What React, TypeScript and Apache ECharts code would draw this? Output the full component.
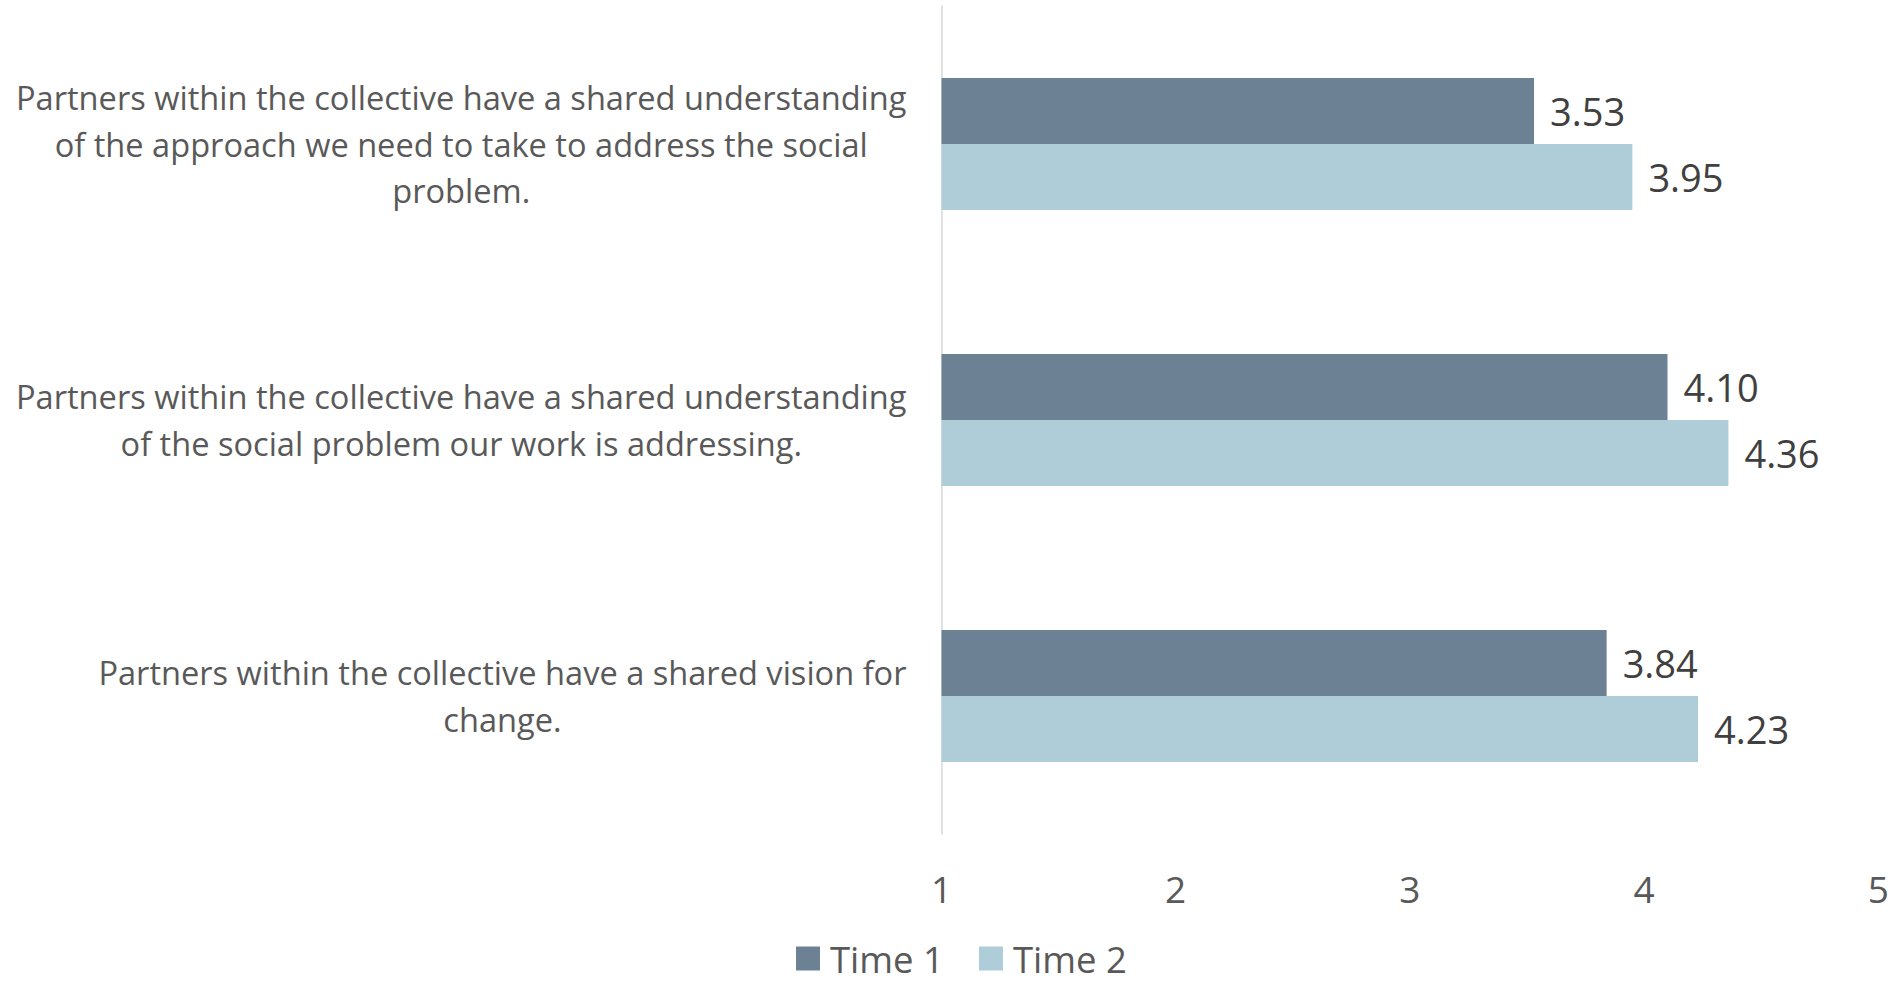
import React, { useEffect, useRef } from "react";
import * as echarts from "echarts";

const categories = [
  "Partners within the collective have a shared understanding\nof the approach we need to take to address the social\nproblem.",
  "Partners within the collective have a shared understanding\nof the social problem our work is addressing.",
  "Partners within the collective have a shared vision for\nchange.",
];
const time1Values = [3.53, 4.1, 3.84];
const time2Values = [3.95, 4.36, 4.23];
const seriesNames = ["Time 1", "Time 2"];
const seriesColors = ["#6D8194", "#AECDD9"];
const axisMin = 1;
const axisMax = 5;

const FONT = "'Open Sans', 'Noto Sans', sans-serif";

export default function App() {
  const ref = useRef<HTMLDivElement>(null);
  useEffect(() => {
    if (!ref.current) return;
    const chart = echarts.init(ref.current, null, { renderer: "svg" });
    const values = [time1Values, time2Values];
    chart.setOption({
      animation: false,
      backgroundColor: "#ffffff",
      textStyle: { fontFamily: FONT },
      grid: { left: 941.5, right: 21.7, top: 6, bottom: 147, containLabel: false },
      legend: {
        data: seriesNames,
        left: 796,
        top: 940,
        padding: 0,
        icon: "rect",
        itemWidth: 24,
        itemHeight: 24,
        itemGap: 35,
        textStyle: {
          fontSize: 36.5,
          lineHeight: 36,
          color: "#595959",
          fontFamily: FONT,
          padding: [0, 0, 0, 5],
        },
      },
      xAxis: {
        type: "value",
        min: axisMin,
        max: axisMax,
        interval: 1,
        axisLine: { show: false },
        axisTick: { show: false },
        splitLine: { show: false },
        axisLabel: { fontSize: 37, color: "#595959", margin: 36, fontFamily: FONT },
      },
      yAxis: {
        type: "category",
        inverse: true,
        data: categories,
        axisLine: { show: true, lineStyle: { color: "#D9D9D9", width: 1.5 } },
        axisTick: { show: false },
        axisLabel: {
          margin: 35,
          fontFamily: FONT,
          formatter: (v: string) => v.split("\n").map((l) => `{c|${l}}`).join("\n"),
          rich: {
            c: { align: "center", fontSize: 32.6, lineHeight: 46.6, color: "#595959", fontFamily: FONT },
          },
        },
      },
      series: seriesNames.map((name, i) => ({
        name,
        type: "bar",
        data: values[i],
        barWidth: 66,
        barGap: "0%",
        itemStyle: { color: seriesColors[i] },
        label: {
          show: true,
          position: "right",
          distance: 16,
          fontSize: 38,
          color: "#404040",
          fontFamily: FONT,
          formatter: (p: any) => Number(p.value).toFixed(2),
        },
      })),
    });
    return () => chart.dispose();
  }, []);
  return (
    <div
      ref={ref}
      style={{ position: "fixed", left: 0, top: 0, width: 1900, height: 981, background: "#fff" }}
    />
  );
}
